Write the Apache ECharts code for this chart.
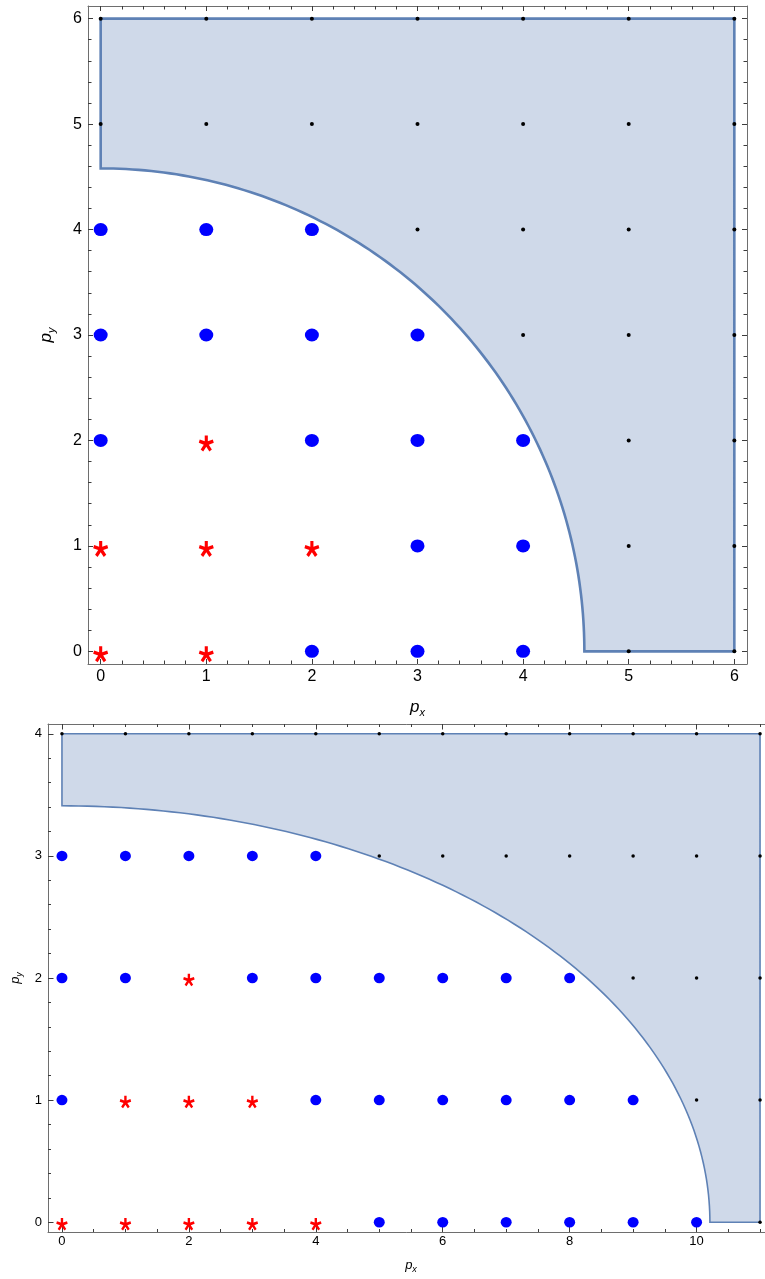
<!DOCTYPE html>
<html>
<head>
<meta charset="utf-8">
<script src="https://cdn.jsdelivr.net/npm/echarts@6/dist/echarts.min.js"></script>
<style>
  html, body { margin: 0; padding: 0; background: #ffffff; }
  #chart { width: 765px; height: 1279px; }
</style>
</head>
<body>
<div id="chart"></div>
<script>
// ---------- Upper panel: lattice 0..6 x 0..6, circular boundary ----------
const upperBlue = [
  [0, 4], [1, 4], [2, 4],
  [0, 3], [1, 3], [2, 3], [3, 3],
  [0, 2], [2, 2], [3, 2], [4, 2],
  [3, 1], [4, 1],
  [2, 0], [3, 0], [4, 0]
];
const upperRed = [
  [1, 2],
  [0, 1], [1, 1], [2, 1],
  [0, 0], [1, 0]
];
const upperBlack = [
  [0, 6], [1, 6], [2, 6], [3, 6], [4, 6], [5, 6], [6, 6],
  [0, 5], [1, 5], [2, 5], [3, 5], [4, 5], [5, 5], [6, 5],
  [3, 4], [4, 4], [5, 4], [6, 4],
  [4, 3], [5, 3], [6, 3],
  [5, 2], [6, 2],
  [5, 1], [6, 1],
  [5, 0], [6, 0]
];
const upperXTicks = [0, 1, 2, 3, 4, 5, 6];
const upperYTicks = [0, 1, 2, 3, 4, 5, 6];
const upperRadius = 4.58;      // radius of the excluded quarter disc
const upperCorner = [6, 6];    // outer corner of the shaded region

// ---------- Lower panel: lattice 0..11 x 0..4, elliptical boundary ----------
const lowerBlue = [
  [0, 3], [1, 3], [2, 3], [3, 3], [4, 3],
  [0, 2], [1, 2], [3, 2], [4, 2], [5, 2], [6, 2], [7, 2], [8, 2],
  [0, 1], [4, 1], [5, 1], [6, 1], [7, 1], [8, 1], [9, 1],
  [5, 0], [6, 0], [7, 0], [8, 0], [9, 0], [10, 0]
];
const lowerRed = [
  [2, 2],
  [1, 1], [2, 1], [3, 1],
  [0, 0], [1, 0], [2, 0], [3, 0], [4, 0]
];
const lowerBlack = [
  [0, 4], [1, 4], [2, 4], [3, 4], [4, 4], [5, 4], [6, 4], [7, 4], [8, 4], [9, 4], [10, 4], [11, 4],
  [5, 3], [6, 3], [7, 3], [8, 3], [9, 3], [10, 3], [11, 3],
  [9, 2], [10, 2], [11, 2],
  [10, 1], [11, 1],
  [11, 0]
];
const lowerXTicks = [0, 2, 4, 6, 8, 10];
const lowerYTicks = [0, 1, 2, 3, 4];
const lowerSemiX = 10.21;      // ellipse semi-axis along p_x
const lowerSemiY = 3.41;       // ellipse semi-axis along p_y
const lowerCorner = [11, 4];

// ---------- helpers ----------
const FRAME = '#6e6e6e';
const TICK = '#3c3c3c';
const FILL = '#cfd9e9';
const EDGE = '#5e81b5';
const FONT = '"Liberation Sans", Arial, Helvetica, sans-serif';

function steps(from, to, step, skip) {
  const out = [];
  const n = Math.round((to - from) / step);
  for (let i = 0; i <= n; i++) {
    const v = +(from + i * step).toFixed(6);
    if (!skip.some(s => Math.abs(s - v) < 1e-6)) out.push(v);
  }
  return out;
}

function axisName(sym, sub, big, small, drop) {
  return {
    text: '{p|' + sym + '}{s|' + sub + '}',
    rich: {
      p: { fontFamily: FONT, fontStyle: 'italic', fontSize: big, color: '#000', verticalAlign: 'top', lineHeight: big + 2 },
      s: { fontFamily: FONT, fontStyle: 'italic', fontSize: small, color: '#000', verticalAlign: 'top', lineHeight: small + 2, padding: [drop, 0, 0, 0] }
    }
  };
}

// Four axes per side pair: the labelled major axis, its minor-tick twin,
// and the mirrored pair on the opposite side of the frame.
function frameAxes(dim, grid, min, max, majors, minors, opt) {
  const sides = dim === 'x' ? ['bottom', 'top'] : ['left', 'right'];
  const axes = [];
  sides.forEach((side, si) => {
    [true, false].forEach(isMajor => {
      const a = {
        type: 'value', gridIndex: grid, min: min, max: max, position: side,
        axisLine: { show: isMajor, onZero: false, lineStyle: { color: FRAME, width: 1 } },
        axisTick: {
          show: true, inside: true, length: isMajor ? opt.major : opt.minor,
          customValues: isMajor ? majors : minors,
          lineStyle: { color: TICK, width: 1 }
        },
        axisLabel: {
          show: isMajor && si === 0, customValues: majors,
          fontFamily: FONT, fontSize: opt.fontSize, color: '#000', margin: opt.margin
        },
        splitLine: { show: false },
        silent: true
      };
      if (isMajor && si === 0) {
        const nm = axisName('p', opt.sub, opt.nameBig, opt.nameSmall, opt.drop);
        a.name = nm.text;
        a.nameLocation = 'middle';
        a.nameGap = opt.nameGap;
        a.nameTextStyle = { rich: nm.rich };
      }
      axes.push(a);
    });
  });
  return axes;
}

// Five-armed asterisk used for the red markers
function asteriskPath() {
  const w = 0.21, L = 1, rin = w / Math.sin(Math.PI / 5);
  const arms = [-126, -54, 18, 90, 162];
  const pts = [];
  arms.forEach(deg => {
    const t = deg * Math.PI / 180;
    const ux = Math.cos(t), uy = Math.sin(t), nx = -uy, ny = ux;
    pts.push([ux * L - nx * w, uy * L - ny * w]);
    pts.push([ux * L + nx * w, uy * L + ny * w]);
    const b = t + Math.PI / 5;
    pts.push([rin * Math.cos(b), rin * Math.sin(b)]);
  });
  return 'path://M' + pts.map(p => (50 + p[0] * 50).toFixed(2) + ',' + (50 - p[1] * 50).toFixed(2)).join('L') + 'Z';
}
const STAR = asteriskPath();

// Shaded region: outside the quarter ellipse, inside the outer rectangle
function regionRenderer(rx, ry, corner, lineWidth) {
  return function (params, api) {
    const pts = [];
    pts.push(api.coord([0, ry]));
    pts.push(api.coord([0, corner[1]]));
    pts.push(api.coord([corner[0], corner[1]]));
    pts.push(api.coord([corner[0], 0]));
    const n = 120;
    for (let i = 0; i <= n; i++) {
      const t = (Math.PI / 2) * i / n;
      pts.push(api.coord([rx * Math.cos(t), ry * Math.sin(t)]));
    }
    return {
      type: 'polygon',
      shape: { points: pts },
      style: { fill: FILL, stroke: EDGE, lineWidth: lineWidth, lineJoin: 'miter' }
    };
  };
}

function panelSeries(axisBase, blue, red, black, rx, ry, corner, sizes) {
  const ax = { xAxisIndex: axisBase.x, yAxisIndex: axisBase.y };
  return [
    Object.assign({
      type: 'custom', coordinateSystem: 'cartesian2d', silent: true, z: 1,
      renderItem: regionRenderer(rx, ry, corner, sizes.edge), data: [[0, 0]]
    }, ax),
    Object.assign({
      type: 'scatter', data: black, symbol: 'circle', symbolSize: sizes.black,
      itemStyle: { color: '#000', opacity: 1 }, silent: true, z: 3
    }, ax),
    Object.assign({
      type: 'scatter', data: blue, symbol: 'circle', symbolSize: sizes.blue,
      itemStyle: { color: '#0000ff', opacity: 1 }, silent: true, z: 3
    }, ax),
    Object.assign({
      type: 'scatter', data: red, symbol: STAR, symbolSize: sizes.star,
      symbolOffset: sizes.starOffset, itemStyle: { color: '#ff0000', opacity: 1 }, silent: true, z: 3
    }, ax)
  ];
}

// ---------- axes ----------
const upperX = frameAxes('x', 0, -0.12, 6.12, upperXTicks, steps(0, 6, 0.2, upperXTicks),
  { major: 5, minor: 3.5, fontSize: 16, margin: 5, sub: 'x', nameBig: 17, nameSmall: 11, drop: 8, nameGap: 35 });
const upperY = frameAxes('y', 0, -0.12, 6.12, upperYTicks, steps(0, 6, 0.2, upperYTicks),
  { major: 5, minor: 3.5, fontSize: 16, margin: 6, sub: 'y', nameBig: 17, nameSmall: 11, drop: 8, nameGap: 31 });
const lowerX = frameAxes('x', 1, -0.22, 11.22, lowerXTicks, steps(0, 11, 0.5, lowerXTicks),
  { major: 5.5, minor: 3, fontSize: 13, margin: 3, sub: 'x', nameBig: 13, nameSmall: 9, drop: 6, nameGap: 27 });
const lowerY = frameAxes('y', 1, -0.08, 4.08, lowerYTicks, steps(0, 4, 0.2, lowerYTicks),
  { major: 5.5, minor: 3, fontSize: 13, margin: 6, sub: 'y', nameBig: 13, nameSmall: 9, drop: 6, nameGap: 23 });

const option = {
  animation: false,
  backgroundColor: '#ffffff',
  grid: [
    { left: 88, top: 6, width: 659, height: 658, outerBoundsMode: 'none', containLabel: false },
    { left: 48, top: 724, width: 726, height: 508, outerBoundsMode: 'none', containLabel: false }
  ],
  xAxis: upperX.concat(lowerX),
  yAxis: upperY.concat(lowerY),
  series: []
    .concat(panelSeries({ x: 0, y: 0 }, upperBlue, upperRed, upperBlack, upperRadius, upperRadius, upperCorner,
      { edge: 2.6, black: 4, blue: [14, 13], star: [15, 16], starOffset: [0, 3] }))
    .concat(panelSeries({ x: 4, y: 4 }, lowerBlue, lowerRed, lowerBlack, lowerSemiX, lowerSemiY, lowerCorner,
      { edge: 1.6, black: 3.5, blue: [11, 10.5], star: [11.5, 12.5], starOffset: [0, 2] }))
};

const chart = echarts.init(document.getElementById('chart'), null, { renderer: 'canvas' });
chart.setOption(option);
</script>
</body>
</html>
